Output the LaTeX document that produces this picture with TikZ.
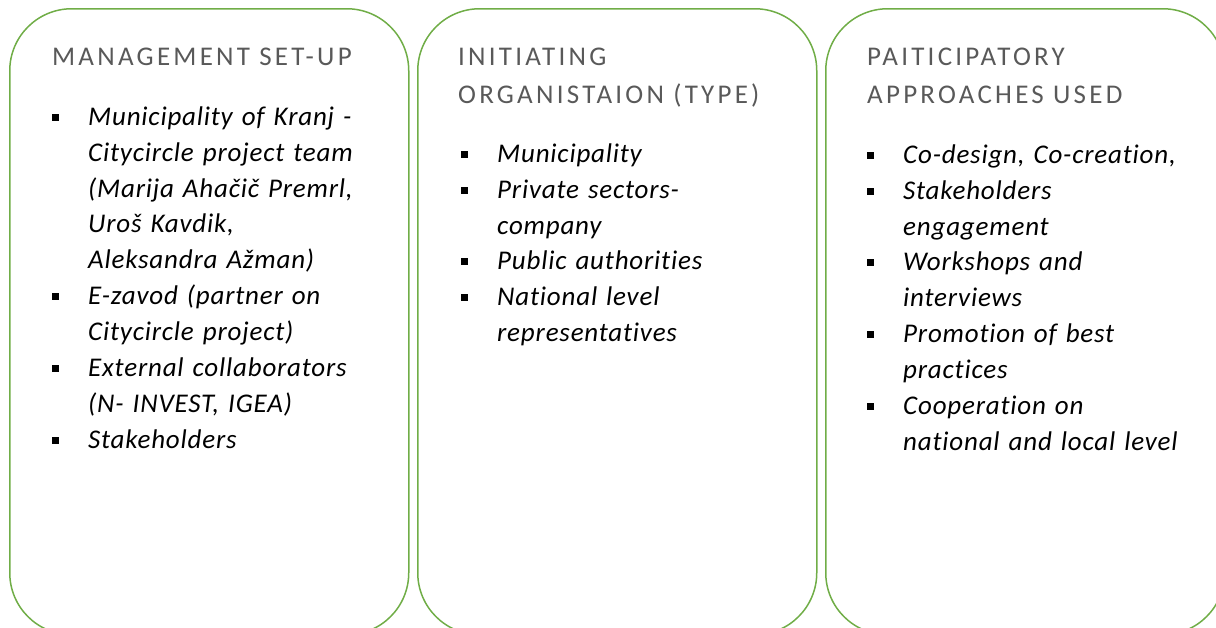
\documentclass[tikz,border=0pt]{standalone}
\usepackage{fontspec}
\setmainfont{Carlito}
\newfontfamily\headfont[LetterSpace=12]{Carlito}
\newfontfamily\itemfont[LetterSpace=3,Ligatures=NoCommon]{Carlito}
\usetikzlibrary{positioning}
\definecolor{boxgreen}{HTML}{70AD47}
\definecolor{headgray}{HTML}{595959}
\newcommand{\bul}{\leavevmode\llap{\rule[4.5pt]{7pt}{7pt}\hspace{29pt}}}

\begin{document}
\begin{tikzpicture}[%
x=1pt, y=-1pt,
panel/.style={draw=boxgreen, line width=1.5pt, rounded corners=62pt,
  minimum width=399pt, minimum height=626pt, anchor=north west, inner sep=0pt},
heading/.style={anchor=north west, inner sep=0pt, align=left, text=headgray,
  font={\headfont\fontsize{27}{38}\selectfont}},
itemlist/.style={anchor=north west, inner sep=0pt, text width=330pt, align=left,
  font={\itemfont\itshape\fontsize{27}{35.9}\selectfont}}
]
\useasboundingbox (0,0) rectangle (1216,627);

% the three panels
\node[panel] (mgmt) at (9,8) {};
\node[panel] (init) at (417,8) {};
\node[panel] (appr) at (825,8) {};

% headings
\node[heading] (mgmthead) at (52,38.4) {\strut MANAGEMENT SET-UP};
\node[heading] (inithead) at (458,38.4) {\strut INITIATING\\ORGANISTAION (TYPE)};
\node[heading] (apprhead) at (867,38.4) {\strut PAITICIPATORY\\APPROACHES USED};

% lists
\node[itemlist] (mgmtlist) at (88,99.9) {\strut\bul Municipality of Kranj -\\
  Citycircle project team\\
  (Marija Ahačič Premrl,\\
  Uroš Kavdik,\\
  Aleksandra Ažman)\\
  \bul E-zavod (partner on\\
  Citycircle project)\\
  \bul External collaborators\\
  (N- INVEST, IGEA)\\
  \bul Stakeholders};
\node[itemlist] (initlist) at (497,136.9) {\strut\bul Municipality\\
  \bul Private sectors-\\
  company\\
  \bul Public authorities\\
  \bul National level\\
  representatives};
\node[itemlist] (apprlist) at (903,137.9) {\strut\bul Co-design, Co-creation,\\
  \bul Stakeholders\\
  engagement\\
  \bul Workshops and\\
  interviews\\
  \bul Promotion of best\\
  practices\\
  \bul Cooperation on\\
  national and local level};

\end{tikzpicture}
\end{document}
